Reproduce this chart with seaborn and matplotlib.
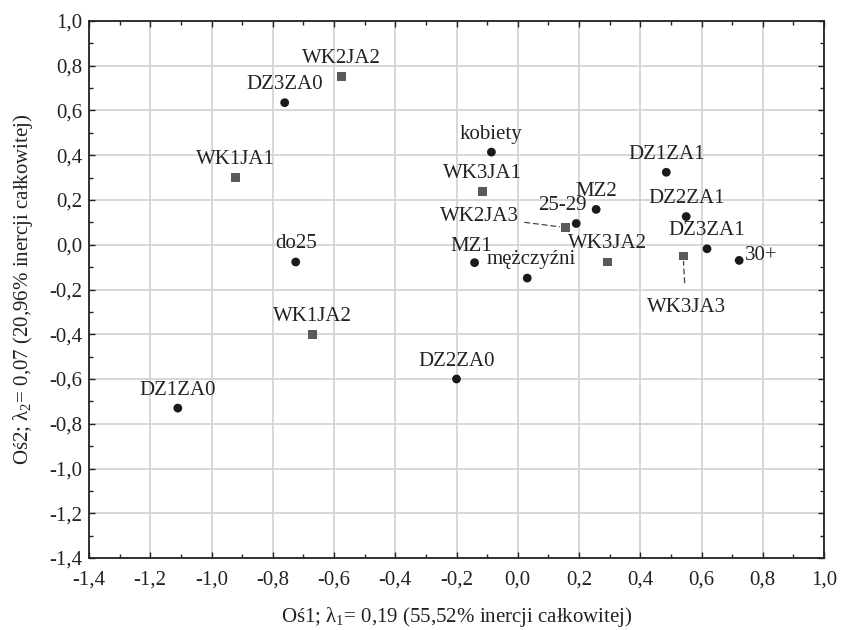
import matplotlib
matplotlib.use("Agg")
import matplotlib.pyplot as plt
import seaborn as sns
import pandas as pd
from matplotlib.ticker import MultipleLocator, FuncFormatter

# ---- data ----
labels = ["WK2JA2", "DZ3ZA0", "WK1JA1", "do25", "WK1JA2", "DZ1ZA0", "DZ2ZA0",
          "kobiety", "WK3JA1", "WK2JA3", "25-29", "MZ2", "MZ1", "mężczyźni",
          "WK3JA2", "DZ1ZA1", "DZ2ZA1", "DZ3ZA1", "WK3JA3", "30+"]
dim1 = [-0.575, -0.761, -0.921, -0.725, -0.670, -1.110, -0.200,
        -0.086, -0.115, 0.155, 0.191, 0.256, -0.141, 0.031,
        0.292, 0.485, 0.550, 0.618, 0.540, 0.723]
dim2 = [0.752, 0.635, 0.302, -0.077, -0.400, -0.730, -0.600,
        0.414, 0.239, 0.077, 0.095, 0.158, -0.080, -0.149,
        -0.077, 0.324, 0.126, -0.018, -0.050, -0.070]
kinds = ["kol", "wiersz", "kol", "wiersz", "kol", "wiersz", "wiersz",
         "wiersz", "kol", "kol", "wiersz", "wiersz", "wiersz", "wiersz",
         "kol", "wiersz", "wiersz", "wiersz", "kol", "wiersz"]
kinds = ["sq" if k == "kol" else "ci" for k in kinds]

xlabel = "Oś1; λ${}_1$= 0,19 (55,52% inercji całkowitej)"
ylabel = "Oś2; λ${}_2$= 0,07 (20,96% inercji całkowitej)"

df = pd.DataFrame({"x": dim1, "y": dim2, "label": labels, "kind": kinds})

# ---- style ----
sns.set_theme(style="white")
plt.rcParams["font.family"] = ["Liberation Serif", "DejaVu Serif"]
plt.rcParams["mathtext.fontset"] = "custom"
plt.rcParams["mathtext.rm"] = "Liberation Serif"
plt.rcParams["mathtext.it"] = "Liberation Serif"

FS = 15
fig = plt.figure(figsize=(8.41, 6.30), dpi=100)
ax = fig.add_axes([89/841, 1 - 558/630, (824 - 89)/841, (558 - 21)/630])

sns.scatterplot(data=df, x="x", y="y", hue="kind", style="kind",
                palette={"ci": "#1a1a1a", "sq": "#5a5a5a"},
                markers={"ci": "o", "sq": "s"}, s=40, linewidth=0,
                legend=False, ax=ax, zorder=3)

# label offsets in pixels (dx, dy) relative to point
offsets = {"25-29": (-14, 18), "mężczyźni": (4, 19), "MZ1": (-3, 16)}
for _, r in df.iterrows():
    lab = r["label"]
    if lab == "WK2JA3":
        ax.annotate(lab, (r["x"], r["y"]), xytext=(-86, 11), textcoords="offset pixels",
                    ha="center", va="center", fontsize=FS, color="#222",
                    arrowprops=dict(arrowstyle="-", linestyle=(0, (4, 3)), color="#444",
                                    lw=0.9, shrinkA=2, shrinkB=4))
    elif lab == "WK3JA3":
        ax.annotate(lab, (r["x"], r["y"]), xytext=(3, -52), textcoords="offset pixels",
                    ha="center", va="center", fontsize=FS, color="#222",
                    arrowprops=dict(arrowstyle="-", linestyle=(0, (4, 3)), color="#444",
                                    lw=0.9, shrinkA=9, shrinkB=4))
    elif lab == "30+":
        ax.annotate(lab, (r["x"], r["y"]), xytext=(6, 5), textcoords="offset pixels",
                    ha="left", va="center", fontsize=FS, color="#222")
    else:
        dx, dy = offsets.get(lab, (0, 18))
        ax.annotate(lab, (r["x"], r["y"]), xytext=(dx, dy), textcoords="offset pixels",
                    ha="center", va="center", fontsize=FS, color="#222")

ax.set_xlim(-1.4, 1.0)
ax.set_ylim(-1.4, 1.0)
ax.xaxis.set_major_locator(MultipleLocator(0.2))
ax.yaxis.set_major_locator(MultipleLocator(0.2))
ax.xaxis.set_minor_locator(MultipleLocator(0.1))
ax.yaxis.set_minor_locator(MultipleLocator(0.1))
fmt = FuncFormatter(lambda v, p: f"{v:.1f}".replace(".", ",").replace("-0,0", "0,0"))
ax.xaxis.set_major_formatter(fmt)
ax.yaxis.set_major_formatter(fmt)
ax.grid(True, which="major", color="#d4d4d4", linewidth=1.3)
ax.set_axisbelow(True)
for sp in ax.spines.values():
    sp.set_visible(True)
    sp.set_color("#222")
    sp.set_linewidth(1.3)
ax.tick_params(which="both", direction="in", top=True, right=True, bottom=True, left=True,
               color="#222", labelsize=FS, labelcolor="#222")
ax.tick_params(which="major", length=4, width=1)
ax.tick_params(which="minor", length=3, width=1)
ax.tick_params(axis="x", pad=9)
ax.tick_params(axis="y", pad=5)
ax.set_xlabel(xlabel, fontsize=FS, color="#222", labelpad=11)
ax.set_ylabel(ylabel, fontsize=FS, color="#222", labelpad=10)

fig.savefig("out.png", dpi=100, facecolor="white")
